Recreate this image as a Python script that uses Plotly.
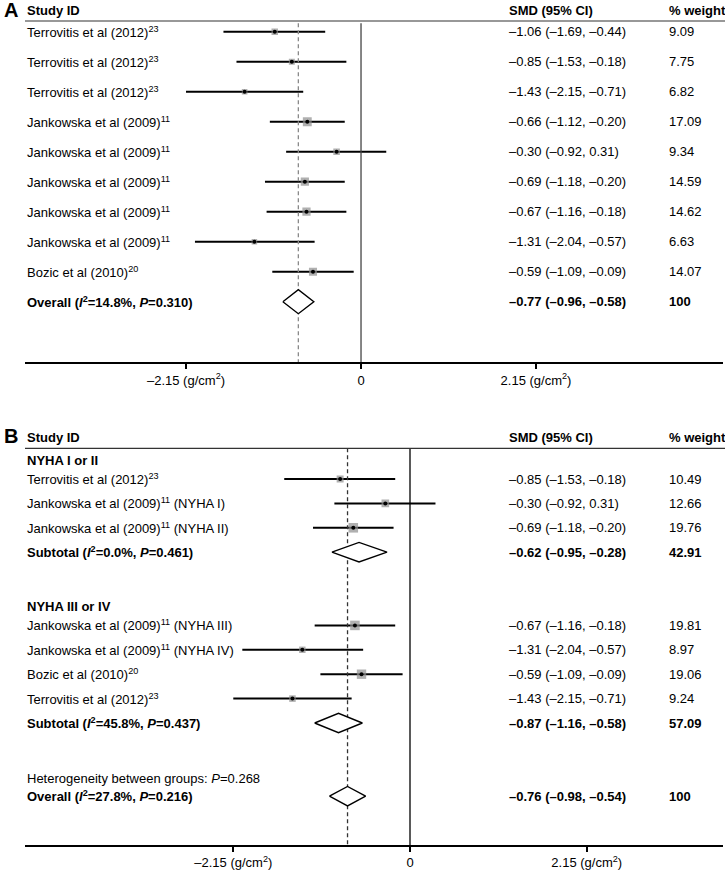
import plotly.graph_objects as go
import math

# ---------------- Data: panel A ----------------
labels_a = ["Terrovitis et al (2012)<sup>23</sup>"] * 3 + ["Jankowska et al (2009)<sup>11</sup>"] * 5 + ["Bozic et al (2010)<sup>20</sup>"]
smd_a = [-1.06, -0.85, -1.43, -0.66, -0.30, -0.69, -0.67, -1.31, -0.59]
lo_a = [-1.69, -1.53, -2.15, -1.12, -0.92, -1.18, -1.16, -2.04, -1.09]
hi_a = [-0.44, -0.18, -0.71, -0.20, 0.31, -0.20, -0.18, -0.57, -0.09]
wt_a = [9.09, 7.75, 6.82, 17.09, 9.34, 14.59, 14.62, 6.63, 14.07]
rows_a = [1, 2, 3, 4, 5, 6, 7, 8, 9]
overall_a = [-0.77, -0.96, -0.58]
overall_a_row = 10
overall_a_label = "<b>Overall (<i>I</i><sup>2</sup>=14.8%, <i>P</i>=0.310)</b>"
overall_a_wt = "100"

# ---------------- Data: panel B ----------------
labels_b = ["Terrovitis et al (2012)<sup>23</sup>",
            "Jankowska et al (2009)<sup>11</sup> (NYHA I)",
            "Jankowska et al (2009)<sup>11</sup> (NYHA II)",
            "Jankowska et al (2009)<sup>11</sup> (NYHA III)",
            "Jankowska et al (2009)<sup>11</sup> (NYHA IV)",
            "Bozic et al (2010)<sup>20</sup>",
            "Terrovitis et al (2012)<sup>23</sup>"]
smd_b = [-0.85, -0.30, -0.69, -0.67, -1.31, -0.59, -1.43]
lo_b = [-1.53, -0.92, -1.18, -1.16, -2.04, -1.09, -2.15]
hi_b = [-0.18, 0.31, -0.20, -0.18, -0.57, -0.09, -0.71]
wt_b = [10.49, 12.66, 19.76, 19.81, 8.97, 19.06, 9.24]
rows_b = [1, 2, 3, 7, 8, 9, 10]
group_labels_b = ["<b>NYHA I or II</b>", "<b>NYHA III or IV</b>"]
group_rows_b = [0.26, 6.23]
pooled_b = [[-0.62, -0.95, -0.28], [-0.87, -1.16, -0.58], [-0.76, -0.98, -0.54]]
pooled_b_rows = [4, 11, 14]
pooled_b_labels = ["<b>Subtotal (<i>I</i><sup>2</sup>=0.0%, <i>P</i>=0.461)</b>",
                   "<b>Subtotal (<i>I</i><sup>2</sup>=45.8%, <i>P</i>=0.437)</b>",
                   "<b>Overall (<i>I</i><sup>2</sup>=27.8%, <i>P</i>=0.216)</b>"]
pooled_b_wt = ["42.91", "57.09", "100"]
het_label = "Heterogeneity between groups: <i>P</i>=0.268"
het_row = 13.27

tick_vals = [-2.15, 0, 2.15]
tick_text = ["–2.15 (g/cm<sup>2</sup>)", "0", "2.15 (g/cm<sup>2</sup>)"]

# ---------------- Layout geometry ----------------
W, H = 725, 870
ML, MR = 25, 2
PW = W - ML - MR
FONT = "Arial, Liberation Sans, Helvetica, sans-serif"
FS = 13


def px_x(p):
    return (p - ML) / PW


def px_y(p):
    return 1 - p / H


def fmt(v):
    s = f"{abs(v):.2f}"
    return ("–" + s) if v < 0 else s


def ci_text(e, l, h):
    return f"{fmt(e)} ({fmt(l)}, {fmt(h)})"


fig = go.Figure()
annotations = []
shapes = []


def add_panel(xa, ya, smd, lo, hi, wt, rows, dash_val, dash_color, zero_color, ymin, ymax):
    xs, ys = [], []
    for l, h, r in zip(lo, hi, rows):
        xs += [l, h, None]
        ys += [r, r, None]
    fig.add_trace(go.Scatter(x=xs, y=ys, mode="lines", line=dict(color="black", width=2),
                             xaxis=xa, yaxis=ya, hoverinfo="skip", showlegend=False))
    fig.add_trace(go.Scatter(x=smd, y=rows, mode="markers",
                             marker=dict(symbol="square", color="#8e8e8e",
                                         size=[2.15 * math.sqrt(w) for w in wt], line=dict(width=0)),
                             xaxis=xa, yaxis=ya, hoverinfo="skip", showlegend=False))
    fig.add_trace(go.Scatter(x=smd, y=rows, mode="markers",
                             marker=dict(symbol="circle", color="black", size=4),
                             xaxis=xa, yaxis=ya, hoverinfo="skip", showlegend=False))
    fig.add_trace(go.Scatter(x=[0, 0], y=[ymin, ymax], mode="lines",
                             line=dict(color=zero_color, width=1.3),
                             xaxis=xa, yaxis=ya, hoverinfo="skip", showlegend=False))
    fig.add_trace(go.Scatter(x=[dash_val, dash_val], y=[ymin, ymax], mode="lines",
                             line=dict(color=dash_color, width=1.3, dash="4px,3px"),
                             xaxis=xa, yaxis=ya, hoverinfo="skip", showlegend=False))


def add_diamond(xa, ya, est, lo, hi, r, hh=0.4):
    fig.add_trace(go.Scatter(x=[lo, est, hi, est, lo], y=[r, r - hh, r, r + hh, r],
                             mode="lines", fill="toself", fillcolor="white",
                             line=dict(color="black", width=1.4),
                             xaxis=xa, yaxis=ya, hoverinfo="skip", showlegend=False))


# ---- panel A ----
A_TOP, A_BOT = 21.0, 362.3
ra_top, ra_bot = 0.643, 12.02
add_panel("x", "y", smd_a, lo_a, hi_a, wt_a, rows_a, overall_a[0], "#8a8a8a", "#444444", 0.72, ra_bot)
add_diamond("x", "y", overall_a[0], overall_a[1], overall_a[2], overall_a_row)

# ---- panel B ----
B_TOP, B_BOT = 448.3, 845.0
rb_top, rb_bot = -0.258, 16.0
add_panel("x2", "y2", smd_b, lo_b, hi_b, wt_b, rows_b, pooled_b[2][0], "#333333", "black", rb_top, rb_bot)
for (e, l, h), r in zip(pooled_b, pooled_b_rows):
    add_diamond("x2", "y2", e, l, h, r)

# ---------------- Text ----------------
X_SMD = px_x(506.7)
X_WT = px_x(666.7)


def txt(x, y, text, yref, size=FS, xref="paper"):
    annotations.append(dict(x=x, y=y, xref=xref, yref=yref, text=text, showarrow=False,
                            xanchor="left", yanchor="middle", align="left",
                            font=dict(family=FONT, size=size, color="black")))


for top_y, letter in [(10, "A"), (436, "B")]:
    annotations.append(dict(x=px_x(2), y=px_y(top_y), xref="paper", yref="paper", text=f"<b>{letter}</b>",
                            showarrow=False, xanchor="left", yanchor="middle",
                            font=dict(family=FONT, size=20, color="black")))
    txt(0, px_y(top_y + 1), "<b>Study ID</b>", "paper")
    txt(X_SMD, px_y(top_y + 1), "<b>SMD (95% CI)</b>", "paper")
    txt(X_WT, px_y(top_y + 1), "<b>% weight</b>", "paper")

for lab, e, l, h, w, r in zip(labels_a, smd_a, lo_a, hi_a, wt_a, rows_a):
    txt(0, r, lab, "y")
    txt(X_SMD, r, ci_text(e, l, h), "y")
    txt(X_WT, r, f"{w:.2f}", "y")
txt(0, overall_a_row, overall_a_label, "y")
txt(X_SMD, overall_a_row, "<b>" + ci_text(*overall_a) + "</b>", "y")
txt(X_WT, overall_a_row, "<b>" + overall_a_wt + "</b>", "y")

for lab, r in zip(group_labels_b, group_rows_b):
    txt(0, r, lab, "y2")
for lab, e, l, h, w, r in zip(labels_b, smd_b, lo_b, hi_b, wt_b, rows_b):
    txt(0, r, lab, "y2")
    txt(X_SMD, r, ci_text(e, l, h), "y2")
    txt(X_WT, r, f"{w:.2f}", "y2")
for lab, (e, l, h), w, r in zip(pooled_b_labels, pooled_b, pooled_b_wt, pooled_b_rows):
    txt(0, r, lab, "y2")
    txt(X_SMD, r, "<b>" + ci_text(e, l, h) + "</b>", "y2")
    txt(X_WT, r, "<b>" + w + "</b>", "y2")
txt(0, het_row, het_label, "y2")

for top in (A_TOP, B_TOP):
    shapes.append(dict(type="line", xref="paper", yref="paper", x0=0, x1=1.003,
                       y0=px_y(top), y1=px_y(top), line=dict(color="#333333", width=1.2)))

axis_common = dict(showgrid=False, zeroline=False, showline=True, linecolor="black", linewidth=1.5,
                   ticks="outside", ticklen=5, tickwidth=1.5, tickcolor="black",
                   tickvals=tick_vals, ticktext=tick_text,
                   tickfont=dict(family=FONT, size=FS, color="black"),
                   domain=[0, 1], fixedrange=True, automargin=False)
yaxis_common = dict(showgrid=False, zeroline=False, showline=False, showticklabels=False,
                    ticks="", fixedrange=True, automargin=False)

fig.update_layout(
    width=W, height=H,
    margin=dict(l=ML, r=MR, t=0, b=0),
    paper_bgcolor="white", plot_bgcolor="white",
    showlegend=False,
    xaxis=dict(range=[-4.128, 4.447], anchor="y", **axis_common),
    yaxis=dict(range=[ra_bot, ra_top], domain=[px_y(A_BOT), px_y(A_TOP)], anchor="x", **yaxis_common),
    xaxis2=dict(range=[-4.684, 3.808], anchor="y2", **axis_common),
    yaxis2=dict(range=[rb_bot, rb_top], domain=[px_y(B_BOT), px_y(B_TOP)], anchor="x2", **yaxis_common),
    annotations=annotations,
    shapes=shapes,
    font=dict(family=FONT, size=FS, color="black"),
)

fig.write_html("out.html", config={"displayModeBar": False},
               post_script="document.body.style.margin='0';document.body.style.overflow='hidden';")
